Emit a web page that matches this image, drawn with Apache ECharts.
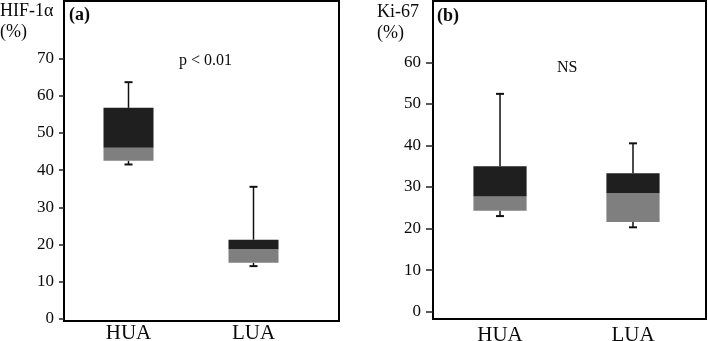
<!DOCTYPE html>
<html>
<head>
<meta charset="utf-8">
<script src="https://cdn.jsdelivr.net/npm/echarts@6/dist/echarts.min.js"></script>
<style>
html,body{margin:0;padding:0;background:#fff;}
#chart{width:708px;height:341px;}
</style>
</head>
<body>
<div id="chart"></div>
<script>
// ---- data ----
const categories = ['HUA', 'LUA'];
const categoryPositions = [1, 2];

// Panel (a) HIF-1α (%)
const hifLow    = [41.5, 14.2];
const hifQ1     = [42.5, 15.1];
const hifMedian = [46.0, 18.7];
const hifQ3     = [56.7, 21.3];
const hifHigh   = [63.6, 35.5];
const hifTicks  = [0, 10, 20, 30, 40, 50, 60, 70];

// Panel (b) Ki-67 (%)
const kiLow    = [23.0, 20.3];
const kiQ1     = [24.3, 21.6];
const kiMedian = [27.7, 28.5];
const kiQ3     = [35.0, 33.3];
const kiHigh   = [52.4, 40.5];
const kiTicks  = [0, 10, 20, 30, 40, 50, 60];

// ---- build ----
function rows(lo, q1, med, q3, hi) {
  return categoryPositions.map((x, i) => [x, lo[i], q1[i], med[i], q3[i], hi[i]]);
}

const SERIF = '"Liberation Serif", "DejaVu Serif", serif';
const TXT = '#0a0a0a';

function renderBox(params, api) {
  const x = api.value(0);
  const lo = api.coord([x, api.value(1)]);
  const q1 = api.coord([x, api.value(2)]);
  const md = api.coord([x, api.value(3)]);
  const q3 = api.coord([x, api.value(4)]);
  const hi = api.coord([x, api.value(5)]);
  const w = api.size([0.4, 0])[0];
  const cx = q1[0];
  const cap = 4;
  const lineStyle = { stroke: '#111', lineWidth: 1.5 };
  return {
    type: 'group',
    children: [
      { type: 'line', shape: { x1: cx, y1: q3[1], x2: cx, y2: hi[1] }, style: lineStyle },
      { type: 'line', shape: { x1: cx - cap, y1: hi[1], x2: cx + cap, y2: hi[1] }, style: { stroke: '#111', lineWidth: 2 } },
      { type: 'line', shape: { x1: cx, y1: q1[1], x2: cx, y2: lo[1] }, style: lineStyle },
      { type: 'line', shape: { x1: cx - cap, y1: lo[1], x2: cx + cap, y2: lo[1] }, style: { stroke: '#111', lineWidth: 2 } },
      { type: 'rect', shape: { x: cx - w / 2, y: md[1], width: w, height: q1[1] - md[1] }, style: { fill: '#7f7f7f' } },
      { type: 'rect', shape: { x: cx - w / 2, y: q3[1], width: w, height: md[1] - q3[1] }, style: { fill: '#1f1f1f' } }
    ]
  };
}

function xAxisCfg(gridIndex, min, max, margin) {
  return {
    gridIndex, type: 'value', min, max,
    axisLine: { show: false },
    axisTick: { show: false },
    splitLine: { show: false },
    axisLabel: {
      customValues: categoryPositions,
      formatter: v => categories[categoryPositions.indexOf(v)] || '',
      fontFamily: SERIF, fontSize: 21, color: TXT, margin: margin
    }
  };
}

function yAxisCfg(gridIndex, min, max, ticks, tickLen, margin) {
  return {
    gridIndex, type: 'value', min, max,
    axisLine: { show: false },
    splitLine: { show: false },
    axisTick: { show: true, customValues: ticks, length: tickLen, lineStyle: { color: '#222', width: 1.5 } },
    axisLabel: { customValues: ticks, fontFamily: SERIF, fontSize: 17, color: TXT, margin: margin }
  };
}

const chart = echarts.init(document.getElementById('chart'), null, { renderer: 'canvas' });
chart.setOption({
  animation: false,
  backgroundColor: '#fff',
  grid: [
    { left: 64, top: 1, width: 275, height: 320, containLabel: false, outerBoundsMode: 'none', show: true, borderColor: '#000', borderWidth: 2, backgroundColor: 'transparent' },
    { left: 433, top: 1, width: 273, height: 318, containLabel: false, outerBoundsMode: 'none', show: true, borderColor: '#000', borderWidth: 2, backgroundColor: 'transparent' }
  ],
  xAxis: [
    xAxisCfg(0, 0.484, 2.684, 2),
    xAxisCfg(1, 0.496, 2.549, 6)
  ],
  yAxis: [
    yAxisCfg(0, -0.54, 85.4, hifTicks, 5, 10),
    yAxisCfg(1, -1.76, 74.74, kiTicks, 7, 12)
  ],
  series: [
    {
      type: 'custom', xAxisIndex: 0, yAxisIndex: 0,
      data: rows(hifLow, hifQ1, hifMedian, hifQ3, hifHigh),
      encode: { x: 0, y: [1, 2, 3, 4, 5] },
      renderItem: renderBox
    },
    {
      type: 'custom', xAxisIndex: 1, yAxisIndex: 1,
      data: rows(kiLow, kiQ1, kiMedian, kiQ3, kiHigh),
      encode: { x: 0, y: [1, 2, 3, 4, 5] },
      renderItem: renderBox
    }
  ],
  graphic: [
    { type: 'text', left: 0, top: 1, style: { text: 'HIF-1α\n(%)', font: '18px ' + SERIF, fill: TXT, lineHeight: 21 } },
    { type: 'text', left: 69, top: 6, style: { text: '(a)', font: 'bold 18px ' + SERIF, fill: TXT } },
    { type: 'text', left: 179, top: 53, style: { text: 'p < 0.01', font: '16px ' + SERIF, fill: TXT } },
    { type: 'text', left: 377, top: 2, style: { text: 'Ki-67\n(%)', font: '18px ' + SERIF, fill: TXT, lineHeight: 21 } },
    { type: 'text', left: 437, top: 7, style: { text: '(b)', font: 'bold 18px ' + SERIF, fill: TXT } },
    { type: 'text', left: 557, top: 60, style: { text: 'NS', font: '16px ' + SERIF, fill: TXT } }
  ]
});
</script>
</body>
</html>
